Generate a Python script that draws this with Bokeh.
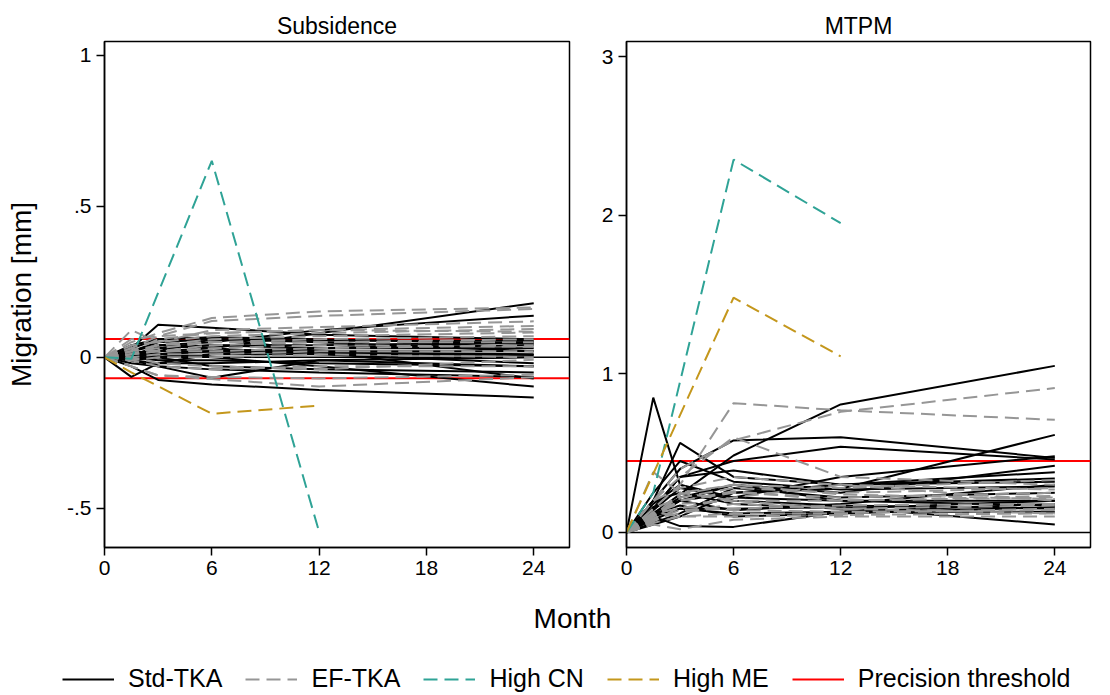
from bokeh.plotting import figure
from bokeh.layouts import column, row
from bokeh.models import Span, Legend, LegendItem, FixedTicker, ColumnDataSource, Range1d
from bokeh.core.properties import value
from bokeh.embed import file_html
from bokeh.resources import INLINE

# ---------------- data ----------------
months = [0, 1.5, 3, 6, 12, 24]
months_high = [0, 1.5, 6, 12]

sub_std = [
    [0, 0.03, 0.108, 0.098, 0.075, 0.06],
    [0, 0.01, 0.02, 0.03, 0.08, 0.179],
    [0, 0.02, 0.04, 0.05, 0.09, 0.138],
    [0, -0.065, -0.02, 0.01, 0.03, 0.05],
    [0, -0.03, -0.075, -0.09, -0.108, -0.133],
    [0, -0.01, -0.03, -0.068, -0.01, -0.03],
    [0, 0.02, 0.05, 0.06, 0.055, 0.055],
    [0, 0.01, 0.03, 0.04, 0.04, 0.05],
    [0, 0.0, 0.02, 0.02, 0.03, 0.04],
    [0, 0.01, 0.01, 0.02, 0.02, 0.02],
    [0, -0.01, 0.0, 0.01, 0.01, 0.008],
    [0, 0.0, -0.01, -0.01, -0.02, -0.03],
    [0, -0.02, -0.03, -0.04, -0.05, -0.065],
    [0, 0.0, 0.01, 0.0, -0.03, -0.097],
    [0, 0.03, 0.06, 0.065, 0.02, -0.07],
    [0, 0.01, 0.03, 0.04, 0.03, 0.03],
    [0, 0.02, 0.01, 0.02, 0.015, 0.01],
    [0, -0.01, -0.02, -0.02, -0.01, 0.0],
    [0, 0.04, 0.06, 0.066, 0.06, 0.045],
    [0, 0.0, 0.04, 0.03, 0.01, -0.02],
    [0, 0.01, 0.0, -0.03, -0.04, -0.05],
    [0, 0.0, 0.02, 0.06, 0.05, 0.02],
]
sub_ef = [
    [0, 0.05, 0.08, 0.13, 0.152, 0.165],
    [0, 0.03, 0.07, 0.12, 0.137, 0.16],
    [0, 0.09, 0.05, 0.09, 0.1, 0.119],
    [0, 0.02, 0.06, 0.08, 0.09, 0.104],
    [0, 0.04, 0.05, 0.07, 0.08, 0.094],
    [0, 0.01, 0.04, 0.06, 0.07, 0.082],
    [0, 0.02, 0.03, 0.05, 0.06, 0.07],
    [0, 0.01, 0.02, 0.04, 0.05, 0.06],
    [0, -0.03, -0.06, -0.072, -0.097, -0.066],
    [0, 0.0, -0.02, -0.03, -0.04, -0.008],
    [0, 0.01, 0.02, 0.02, 0.03, 0.04],
    [0, 0.0, 0.01, 0.01, 0.02, 0.02],
    [0, -0.01, 0.0, 0.0, 0.01, 0.0],
    [0, 0.06, 0.07, 0.08, 0.09, 0.085],
    [0, 0.02, 0.04, 0.05, 0.05, 0.05],
    [0, -0.01, -0.03, -0.04, -0.03, -0.03],
    [0, 0.03, 0.02, 0.03, 0.04, 0.035],
    [0, -0.03, -0.06, -0.065, -0.07, -0.058],
]
sub_cn = [0, -0.005, 0.651, -0.578]
sub_me = [0, -0.05, -0.187, -0.16]

mtpm_std = [
    [0, 0.85, 0.30, 0.22, 0.2, 0.2],
    [0, 0.2, 0.565, 0.35, 0.3, 0.34],
    [0, 0.12, 0.24, 0.485, 0.807, 1.05],
    [0, 0.2, 0.4, 0.58, 0.6, 0.47],
    [0, 0.15, 0.35, 0.45, 0.54, 0.46],
    [0, 0.1, 0.2, 0.25, 0.275, 0.615],
    [0, 0.1, 0.15, 0.15, 0.16, 0.05],
    [0, 0.1, 0.04, 0.035, 0.13, 0.18],
    [0, 0.15, 0.35, 0.39, 0.3, 0.38],
    [0, 0.1, 0.2, 0.3, 0.25, 0.42],
    [0, 0.18, 0.3, 0.2, 0.17, 0.15],
    [0, 0.08, 0.15, 0.12, 0.13, 0.13],
    [0, 0.12, 0.22, 0.3, 0.2, 0.17],
    [0, 0.05, 0.1, 0.25, 0.3, 0.32],
    [0, 0.2, 0.25, 0.18, 0.15, 0.2],
    [0, 0.14, 0.28, 0.22, 0.35, 0.48],
    [0, 0.06, 0.12, 0.28, 0.22, 0.25],
    [0, 0.16, 0.2, 0.14, 0.18, 0.3],
    [0, 0.25, 0.45, 0.32, 0.27, 0.29],
    [0, 0.12, 0.17, 0.1, 0.12, 0.16],
]
mtpm_ef = [
    [0, 0.15, 0.3, 0.815, 0.77, 0.71],
    [0, 0.2, 0.4, 0.58, 0.76, 0.91],
    [0, 0.2, 0.35, 0.6, 0.35, 0.3],
    [0, 0.38, 0.25, 0.3, 0.28, 0.33],
    [0, 0.1, 0.2, 0.25, 0.22, 0.25],
    [0, 0.12, 0.18, 0.2, 0.2, 0.22],
    [0, 0.08, 0.14, 0.15, 0.17, 0.18],
    [0, 0.06, 0.1, 0.12, 0.12, 0.15],
    [0, 0.05, 0.02, 0.08, 0.1, 0.1],
    [0, 0.15, 0.22, 0.28, 0.25, 0.28],
    [0, 0.1, 0.25, 0.2, 0.15, 0.12],
    [0, 0.12, 0.15, 0.22, 0.3, 0.2],
    [0, 0.09, 0.12, 0.18, 0.15, 0.17],
    [0, 0.2, 0.28, 0.35, 0.3, 0.27],
    [0, 0.07, 0.16, 0.14, 0.13, 0.14],
    [0, 0.11, 0.2, 0.26, 0.2, 0.23],
    [0, 0.13, 0.1, 0.1, 0.11, 0.12],
    [0, 0.08, 0.24, 0.3, 0.24, 0.21],
]
mtpm_cn = [0, 0.25, 2.35, 1.95]
mtpm_me = [0, 0.37, 1.48, 1.11]

precision_sub = [0.061, -0.069]
precision_mtpm = [0.45]

x_ticks = [0, 6, 12, 18, 24]
sub_ticks = [-0.5, 0, 0.5, 1]
sub_tick_labels = ["-.5", "0", ".5", "1"]
mtpm_ticks = [0, 1, 2, 3]
mtpm_tick_labels = ["0", "1", "2", "3"]

series_labels = ["Std-TKA", "EF-TKA", "High CN", "High ME", "Precision threshold"]

# ---------------- styles ----------------
FONT = "Liberation Sans"
C_STD = "black"
C_EF = "#969696"
C_CN = "#2fa396"
C_ME = "#c4971c"
C_PREC = "#ff0000"
DASH = "14 7"
LW = 2


def make_panel(title, std, ef, cn, me, thresholds, yr, yticks, ylabels, width, bl, br, ylabel=None):
    p = figure(width=width, height=589, output_backend="svg", toolbar_location=None,
               x_range=Range1d(0, 26), y_range=Range1d(*yr),
               min_border_left=bl, min_border_right=br, min_border_top=41, min_border_bottom=42)
    p.title.text = title
    p.title.align = "center"
    p.title.text_font = FONT
    p.title.text_font_size = "23px"
    p.title.text_font_style = "normal"
    p.title.text_color = "black"
    p.title.standoff = 6
    p.grid.visible = False
    p.outline_line_color = "black"
    p.outline_line_width = 1.5
    p.outline_line_alpha = 1
    p.background_fill_color = "white"
    p.border_fill_color = "white"

    for th in thresholds:
        p.add_layout(Span(location=th, dimension="width", line_color=C_PREC,
                          line_width=LW, level="underlay"))
    p.add_layout(Span(location=0, dimension="width", line_color="black",
                      line_width=1.5, level="underlay"))

    src_std = ColumnDataSource(dict(xs=[months] * len(std), ys=std))
    src_ef = ColumnDataSource(dict(xs=[months] * len(ef), ys=ef))
    p.multi_line("xs", "ys", source=src_std, line_color=C_STD, line_width=LW)
    p.multi_line("xs", "ys", source=src_ef, line_color=C_EF, line_width=LW, line_dash=DASH)
    p.line(months_high, cn, line_color=C_CN, line_width=LW, line_dash=DASH)
    p.line(months_high, me, line_color=C_ME, line_width=LW, line_dash=DASH)

    for ax in (p.xaxis[0], p.yaxis[0]):
        ax.axis_line_width = 1.5
        ax.axis_line_color = "black"
        ax.major_tick_line_width = 1.5
        ax.major_tick_line_color = "black"
        ax.major_tick_out = 8
        ax.major_tick_in = 0
        ax.minor_tick_line_color = None
        ax.major_label_text_font = FONT
        ax.major_label_text_font_size = "21px"
        ax.major_label_text_color = "black"
        ax.major_label_standoff = 5
    p.xaxis.ticker = FixedTicker(ticks=x_ticks)
    p.yaxis.ticker = FixedTicker(ticks=yticks)
    p.yaxis.major_label_overrides = {t: l for t, l in zip(yticks, ylabels)}
    if ylabel:
        p.yaxis.axis_label = ylabel
        p.yaxis.axis_label_text_font = FONT
        p.yaxis.axis_label_text_font_size = "28px"
        p.yaxis.axis_label_text_font_style = "normal"
        p.yaxis.axis_label_text_color = "black"
        p.yaxis.axis_label_standoff = 27
    return p


p1 = make_panel("Subsidence", sub_std, sub_ef, sub_cn, sub_me, precision_sub,
                (-0.63, 1.046), sub_ticks, sub_tick_labels, 574, 104, 5, "Migration [mm]")
p2 = make_panel("MTPM", mtpm_std, mtpm_ef, mtpm_cn, mtpm_me, precision_mtpm,
                (-0.095, 3.095), mtpm_ticks, mtpm_tick_labels, 530, 52, 14)

# bottom strip: x-axis title and legend
H3 = 104
p3 = figure(width=1104, height=H3, output_backend="svg", toolbar_location=None,
            x_range=Range1d(0, 1104), y_range=Range1d(0, H3),
            x_axis_type=None, y_axis_type=None,
            min_border_left=0, min_border_right=0, min_border_top=0, min_border_bottom=0)
p3.grid.visible = False
p3.outline_line_color = None
p3.text(x=[572], y=[H3 - 29], text=["Month"], text_font=value(FONT), text_font_size=value("28px"),
        text_align="center", text_baseline="middle", text_color="black")

off = [-100, -90]
r_std = p3.line(off, off, line_color=C_STD, line_width=LW)
r_ef = p3.line(off, off, line_color=C_EF, line_width=LW, line_dash=DASH)
r_cn = p3.line(off, off, line_color=C_CN, line_width=LW, line_dash=DASH)
r_me = p3.line(off, off, line_color=C_ME, line_width=LW, line_dash=DASH)
r_pr = p3.line(off, off, line_color=C_PREC, line_width=LW)
legend = Legend(items=[LegendItem(label=l, renderers=[r]) for l, r in
                       zip(series_labels, [r_std, r_ef, r_cn, r_me, r_pr])],
                orientation="horizontal", location=(62, 0),
                glyph_width=52, glyph_height=20, label_standoff=14, spacing=23,
                label_text_font=FONT, label_text_font_size="25px", label_text_color="black",
                border_line_color=None, background_fill_alpha=0,
                padding=0, margin=0)
p3.add_layout(legend, "center")

layout = column(row(p1, p2), p3)
open("out.html", "w").write(file_html(layout, INLINE))
